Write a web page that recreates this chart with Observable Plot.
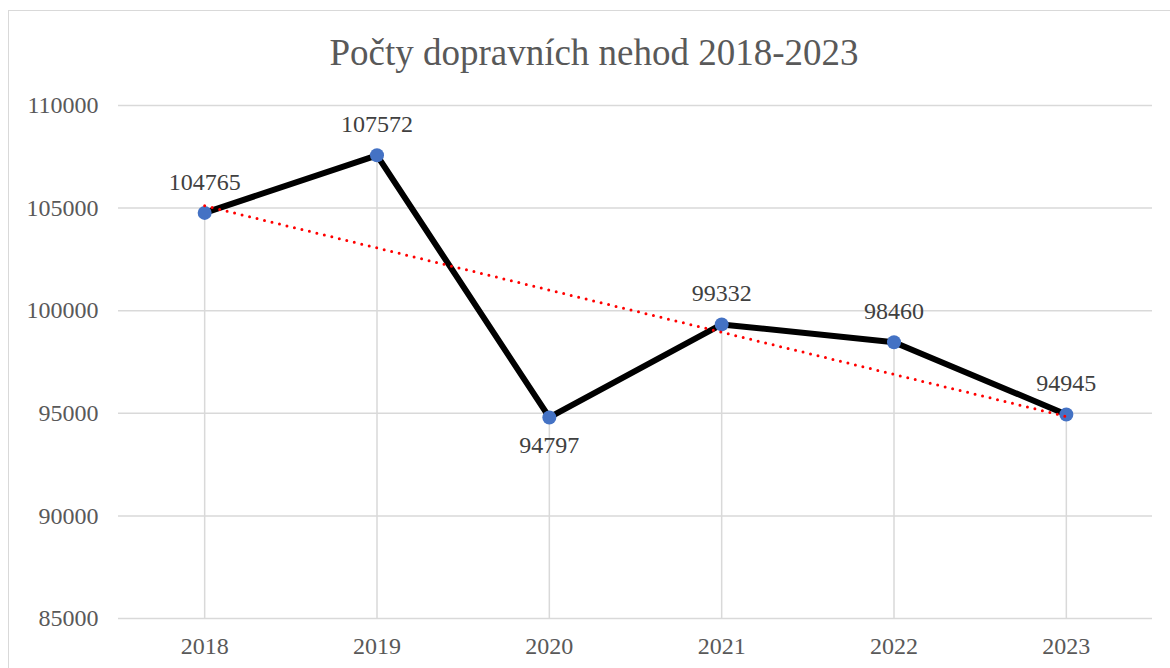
<!DOCTYPE html>
<html><head><meta charset="utf-8">
<script src="https://cdn.jsdelivr.net/npm/d3@7"></script>
<script src="https://cdn.jsdelivr.net/npm/@observablehq/plot@0.6"></script>
<style>
html,body{margin:0;padding:0;background:#fff;overflow:hidden;width:1170px;height:668px;position:relative}
#frame{position:absolute;left:8px;top:10px;width:1300px;height:800px;border:1.5px solid #d9d9d9;box-sizing:border-box}
#title{position:absolute;left:9px;top:34px;width:1170px;text-align:center;font-family:"Liberation Serif","Times New Roman",serif;font-size:37px;line-height:37px;color:#595959}
#chart{position:absolute;left:0;top:80px}
#chart svg, #chart svg text{font-family:"Liberation Serif","Times New Roman",serif !important}
</style>
</head><body>
<div id="frame"></div>
<div id="title">Počty dopravních nehod 2018-2023</div>
<div id="chart"></div>
<script>
const years = [2018, 2019, 2020, 2021, 2022, 2023];
const counts = [104765, 107572, 94797, 99332, 98460, 94945];
const yTicks = [85000, 90000, 95000, 100000, 105000, 110000];
const labelBelow = [false, false, true, false, false, false];

const data = years.map((y, i) => ({year: y, count: counts[i], below: labelBelow[i]}));
const font = '"Liberation Serif","Times New Roman",serif';

const chart = Plot.plot({
  width: 1170,
  height: 588,
  marginTop: 25,
  marginBottom: 50,
  marginLeft: 118,
  marginRight: 18,
  style: {fontFamily: font, fontSize: "24px", color: "#595959", background: "transparent"},
  x: {domain: [2017.5, 2023.5], ticks: years, tickFormat: d => String(d), tickSize: 0, tickPadding: 18, label: null},
  y: {domain: [85000, 110000], ticks: yTicks, tickFormat: d => String(d), tickSize: 0, tickPadding: 20, label: null},
  marks: [
    Plot.ruleY(yTicks, {stroke: "#d9d9d9", strokeWidth: 1.5}),
    Plot.ruleX(data, {x: "year", y1: 85000, y2: "count", stroke: "#d9d9d9", strokeWidth: 1.5}),
    Plot.line(data, {x: "year", y: "count", stroke: "#000", strokeWidth: 6, strokeLinejoin: "miter"}),
    Plot.dot(data, {x: "year", y: "count", r: 7, fill: "#4472C4", stroke: "none"}),
    Plot.linearRegressionY(data, {x: "year", y: "count", ci: 0, stroke: "#ff0000", strokeWidth: 3, strokeDasharray: "0 7.7", strokeLinecap: "round"}),
    Plot.text(data.filter(d => !d.below), {x: "year", y: "count", text: d => String(d.count), dy: -31, fill: "#404040", fontSize: 24}),
    Plot.text(data.filter(d => d.below), {x: "year", y: "count", text: d => String(d.count), dy: 28, fill: "#404040", fontSize: 24})
  ]
});
document.getElementById("chart").appendChild(chart);
</script>
</body></html>
